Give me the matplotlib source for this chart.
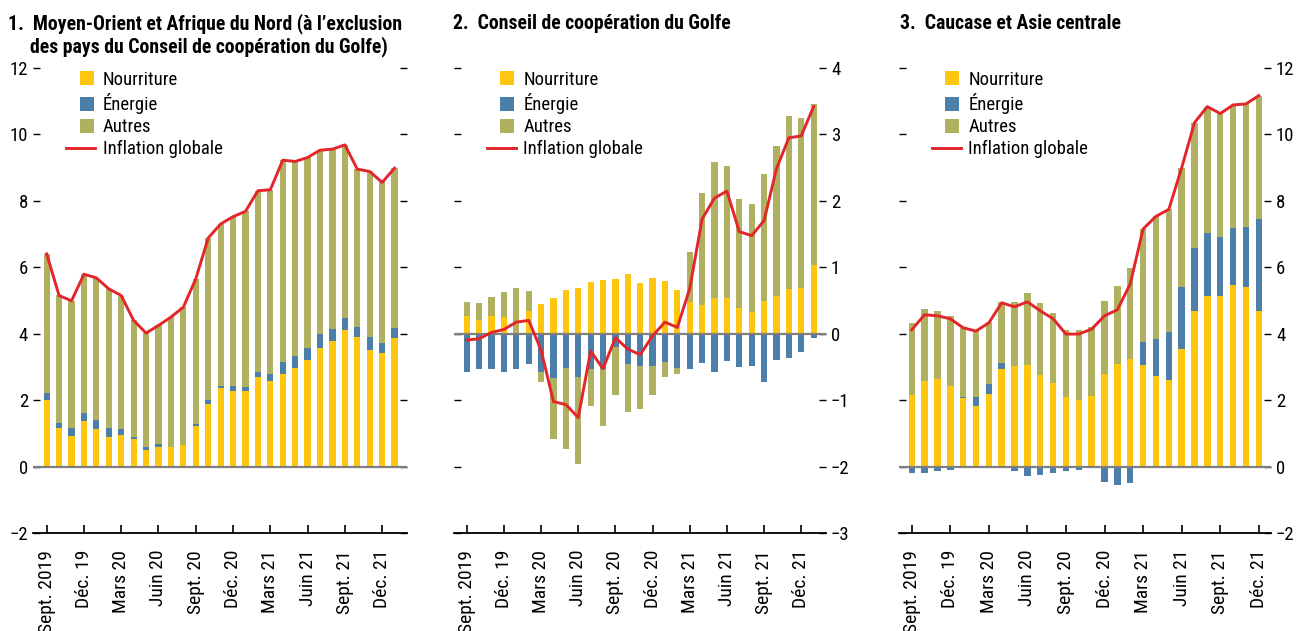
import numpy as np
import matplotlib
matplotlib.use("Agg")
import matplotlib.pyplot as plt
import matplotlib.patches as mpatches
import matplotlib.lines as mlines
from matplotlib.legend_handler import HandlerPatch

plt.rcParams['font.family'] = ['Roboto Condensed', 'Archivo Narrow', 'Liberation Sans', 'DejaVu Sans']
plt.rcParams['axes.unicode_minus'] = True

# Sept. 2019 -> Janv. 2022 (monthly)
tick_labels = ["Sept. 2019", "Déc. 19", "Mars 20", "Juin 20", "Sept. 20",
               "Déc. 20", "Mars 21", "Juin 21", "Sept. 21", "Déc. 21"]

# 1. Moyen-Orient et Afrique du Nord (hors CCG)
mena_food = [2.0, 1.17, 0.93, 1.38, 1.14, 0.9, 0.96, 0.85, 0.5, 0.6, 0.6, 0.66, 1.23, 1.88,
             2.37, 2.28, 2.28, 2.7, 2.58, 2.8, 2.97, 3.21, 3.57, 3.78, 4.12, 3.9, 3.51, 3.43, 3.87]
mena_energy = [0.21, 0.15, 0.24, 0.24, 0.28, 0.27, 0.18, 0.05, 0.1, 0.09, -0.05, -0.02, 0.07, 0.12,
               0.06, 0.15, 0.12, 0.15, 0.22, 0.35, 0.36, 0.36, 0.43, 0.36, 0.35, 0.31, 0.39, 0.3, 0.31]
mena_other = [4.19, 3.84, 3.82, 4.18, 4.26, 4.19, 4.01, 3.5, 3.42, 3.56, 3.9, 4.14, 4.35, 4.88,
              4.87, 5.09, 5.28, 5.45, 5.53, 6.07, 5.85, 5.73, 5.52, 5.41, 5.21, 4.74, 4.98, 4.82, 4.8]
mena_headline = [6.4, 5.15, 4.99, 5.79, 5.68, 5.35, 5.15, 4.4, 4.02, 4.25, 4.5, 4.8, 5.65, 6.88,
                 7.3, 7.52, 7.68, 8.3, 8.33, 9.22, 9.18, 9.3, 9.52, 9.55, 9.68, 8.95, 8.88, 8.55, 8.98]

# 2. Conseil de coopération du Golfe
gcc_food = [0.265, 0.205, 0.265, 0.25, 0.0, 0.34, 0.445, 0.535, 0.655, 0.685, 0.775, 0.805, 0.82, 0.895,
            0.76, 0.835, 0.79, 0.655, 0.475, 0.43, 0.535, 0.535, 0.385, 0.325, 0.49, 0.565, 0.67, 0.685, 1.03]
gcc_energy = [-0.57, -0.525, -0.525, -0.57, -0.525, -0.45, -0.57, -0.66, -0.51, -0.645, -0.525, -0.525, -0.195, -0.45,
              -0.48, -0.48, -0.42, -0.51, -0.525, -0.435, -0.57, -0.405, -0.495, -0.48, -0.72, -0.39, -0.36, -0.27, -0.06]
gcc_other = [0.21, 0.255, 0.285, 0.375, 0.685, 0.3, -0.15, -0.915, -1.23, -1.32, -0.555, -0.855, -0.72, -0.72,
             -0.645, -0.435, -0.225, -0.09, 0.75, 1.68, 2.04, 1.98, 1.635, 1.62, 1.905, 2.265, 2.61, 2.565, 2.43]
gcc_headline = [-0.095, -0.075, 0.02, 0.065, 0.175, 0.2, -0.245, -1.02, -1.065, -1.26, -0.26, -0.525, -0.06, -0.23,
                -0.315, -0.03, 0.175, 0.095, 0.68, 1.725, 2.04, 2.145, 1.535, 1.475, 1.7, 2.48, 2.945, 2.975, 3.415]

# 3. Caucase et Asie centrale
cca_food = [2.16, 2.59, 2.65, 2.43, 2.07, 1.83, 2.19, 2.95, 3.03, 3.07, 2.76, 2.52, 2.1, 2.01,
            2.13, 2.79, 3.09, 3.25, 3.06, 2.73, 2.61, 3.55, 4.68, 5.14, 5.14, 5.46, 5.4, 4.68]
cca_energy = [-0.2, -0.2, -0.14, -0.09, 0.03, 0.27, 0.3, 0.18, -0.14, -0.27, -0.24, -0.2, -0.14, -0.11,
              -0.05, -0.47, -0.54, -0.5, 0.7, 1.11, 1.45, 1.85, 1.9, 1.88, 1.77, 1.71, 1.8, 2.76]
cca_other = [2.16, 2.15, 2.03, 2.1, 2.07, 1.98, 1.86, 1.82, 1.92, 2.15, 2.16, 2.1, 2.01, 2.1,
             2.07, 2.19, 2.34, 2.73, 3.39, 3.69, 3.68, 3.59, 3.77, 3.81, 3.71, 3.71, 3.71, 3.72]
cca_headline = [4.12, 4.57, 4.54, 4.45, 4.18, 4.08, 4.33, 4.93, 4.81, 4.96, 4.69, 4.45, 3.99, 3.99,
                4.14, 4.54, 4.72, 5.5, 7.15, 7.53, 7.74, 8.99, 10.35, 10.83, 10.62, 10.88, 10.91, 11.16]

C_FOOD = "#FFC610"
C_ENERGY = "#4B7EA9"
C_OTHER = "#AFB160"
C_LINE = "#E2262A"

W, H = 1298, 631
fig = plt.figure(figsize=(W / 100, H / 100), dpi=100)


def px_axes(x0, x1, y_top, y_bot):
    return fig.add_axes([x0 / W, 1 - y_bot / H, (x1 - x0) / W, (y_bot - y_top) / H])


class SquareHandler(HandlerPatch):
    def create_artists(self, legend, orig_handle, xdescent, ydescent, width, height, fontsize, trans):
        s = height * 1.05
        p = mpatches.Rectangle((width - s - xdescent - 1, -ydescent - (s - height) / 2), s, s,
                               facecolor=orig_handle.get_facecolor(), edgecolor="none", transform=trans)
        return [p]


def panel(ax, food, energy, other, headline, ylim, yticks, label_side, xlim):
    n = len(food)
    x = np.arange(n)
    pos = np.zeros(n)
    neg = np.zeros(n)
    for vals, col in [(food, C_FOOD), (energy, C_ENERGY), (other, C_OTHER)]:
        v = np.array(vals)
        base = np.where(v >= 0, pos, neg)
        ax.bar(x, v, 0.5, bottom=base, color=col, linewidth=0, zorder=2)
        pos = pos + np.where(v >= 0, v, 0)
        neg = neg + np.where(v < 0, v, 0)
    ax.axhline(0, color="#7f7f7f", lw=1.6, zorder=3)
    ax.plot(x, headline, color=C_LINE, lw=2.1, zorder=4)

    ax.set_xlim(*xlim)
    ax.set_ylim(*ylim)
    for s in ["top", "left", "right"]:
        ax.spines[s].set_visible(False)
    ax.spines["bottom"].set_linewidth(1.3)

    ticks = np.arange(0, n, 3)
    ax.set_xticks(ticks)
    ax.set_xticklabels(tick_labels[:len(ticks)], rotation=90, va="top", ha="center")
    ax.tick_params(axis="x", direction="in", length=6, width=1.2, pad=12, labelsize=14)

    ax.set_yticks(yticks)
    ax.tick_params(axis="y", direction="in", length=5, width=1.0, pad=3.6, labelsize=13.5,
                   left=True, right=True,
                   labelleft=(label_side == "left"), labelright=(label_side == "right"))

    handles = [mpatches.Patch(color=C_FOOD), mpatches.Patch(color=C_ENERGY),
               mpatches.Patch(color=C_OTHER), mlines.Line2D([], [], color=C_LINE, lw=2.1)]
    labels = ["Nourriture", "Énergie", "Autres", "Inflation globale"]
    ax.legend(handles, labels, loc="upper left", bbox_to_anchor=(33 / 374, 0.993),
              frameon=False, fontsize=13.5, borderpad=0, borderaxespad=0,
              handlelength=1.55, handleheight=0.72, handletextpad=0.4, labelspacing=0.22,
              handler_map={mpatches.Patch: SquareHandler()})


top, bot = 67.7, 533.3
ax1 = px_axes(33, 407, top, bot)
panel(ax1, mena_food, mena_energy, mena_other, mena_headline, (-2, 12), np.arange(-2, 13, 2),
      "left", (-1.1, 29.0))
ax2 = px_axes(454, 826, top, bot)
panel(ax2, gcc_food, gcc_energy, gcc_other, gcc_headline, (-3, 4), np.arange(-3, 5, 1),
      "right", (-1.03, 29.0))
ax3 = px_axes(899, 1271, top, bot)
panel(ax3, cca_food, cca_energy, cca_other, cca_headline, (-2, 12), np.arange(-2, 13, 2),
      "right", (-0.99, 27.95))

tkw = dict(fontsize=14.2, fontweight="bold", va="baseline", ha="left")
fig.text(8 / W, 1 - 29 / H, "1.  Moyen-Orient et Afrique du Nord (à l’exclusion", **tkw)
fig.text(30 / W, 1 - 52 / H, "des pays du Conseil de coopération du Golfe)", **tkw)
fig.text(453 / W, 1 - 29 / H, "2.  Conseil de coopération du Golfe", **tkw)
fig.text(900 / W, 1 - 29 / H, "3.  Caucase et Asie centrale", **tkw)

fig.savefig("out.png", dpi=100)
